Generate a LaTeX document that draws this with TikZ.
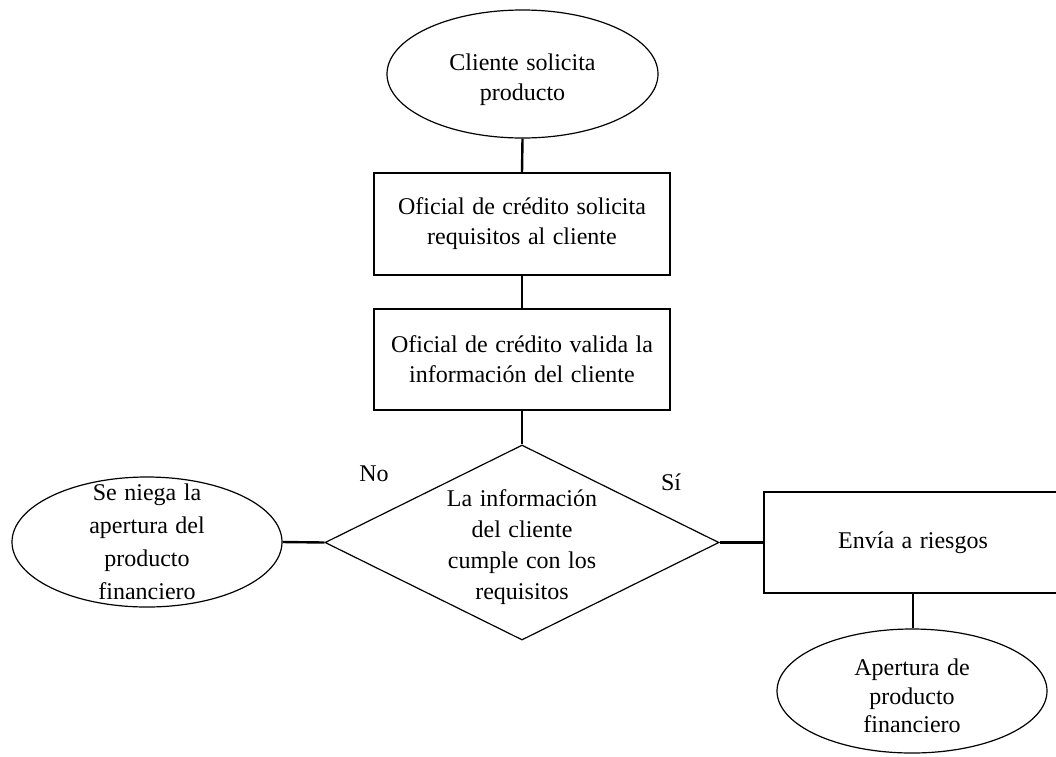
\documentclass[tikz,border=0pt]{standalone}
\usepackage{fontspec}
\setmainfont{Liberation Serif}[WordSpace=1.25]
\usetikzlibrary{shapes.geometric}
\begin{document}
\begin{tikzpicture}[x=1pt,y=-1pt,
  txt/.style={font=\fontsize{24}{30}\selectfont, align=center, inner sep=0pt},
  term/.style={draw, ellipse, line width=1.2pt, inner sep=0pt},
  proc/.style={draw, rectangle, line width=1.2pt, txt},
  dec/.style={draw, diamond, line width=1.2pt, inner sep=0pt},
  conn/.style={line width=2.4pt}]
\useasboundingbox (0,0) rectangle (1056,756);
% shapes
\node[term, minimum width=271, minimum height=128] (start) at (522.5,74) {};
\node[proc, minimum width=296, minimum height=102] (req) at (522,224) {Oficial de crédito solicita\\requisitos al cliente};
\node[proc, minimum width=296, minimum height=101] (val) at (522,359.5) {Oficial de crédito valida la\\información del cliente};
\node[dec, minimum width=394, minimum height=195] (dec) at (522,542.5) {};
\node[term, minimum width=270, minimum height=130] (neg) at (147,542) {};
\node[proc, minimum width=298, minimum height=101] (env) at (913,542.5) {Envía a riesgos};
\node[term, minimum width=270, minimum height=124] (ap) at (912,691) {};
% texts inside shapes
\node[txt] (startt) at (522.5,80) {Cliente solicita\\producto};
\node[txt, font=\fontsize{24}{31}\selectfont] (dect) at (522,547) {La información\\del cliente\\cumple con los\\requisitos};
\node[txt, font=\fontsize{24}{33}\selectfont] (negt) at (147,542) {Se niega la\\apertura del\\producto\\financiero};
\node[txt, font=\fontsize{24}{28.5}\selectfont] (apt) at (912,696) {Apertura de\\producto\\financiero};
% branch labels
\node[txt] (no) at (374,474) {No};
\node[txt] (si) at (671,482) {Sí};
% connectors
\draw[conn] (start.south) -- (req.north);
\draw[conn] (req.south) -- (val.north);
\draw[conn] (val.south) -- (dec.north);
\draw[conn] (dec.west) -- (neg.east);
\draw[conn] (dec.east) -- (env.west);
\draw[conn] (env.south) -- (env.south |- ap.north);
\end{tikzpicture}
\end{document}
